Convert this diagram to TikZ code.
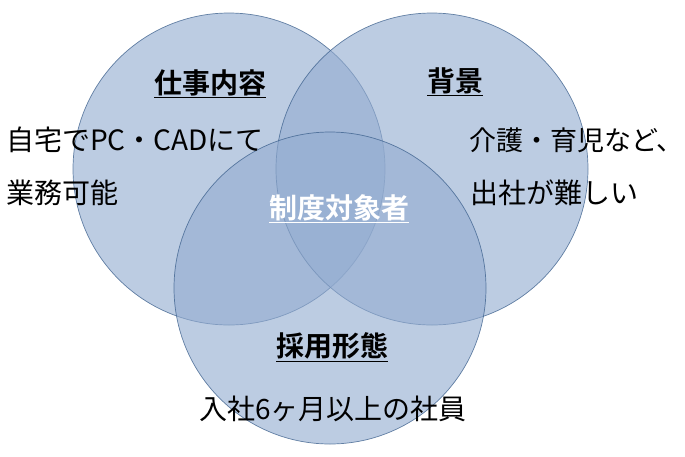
\documentclass[tikz,border=0pt]{standalone}
\usepackage{fontspec}
\setmainfont{Noto Sans CJK JP}
\newfontfamily\jpbold{Noto Sans CJK JP Bold}
\definecolor{vfill}{HTML}{93ACD0}
\definecolor{vline}{HTML}{385D8A}
\begin{document}
\begin{tikzpicture}[x=1pt,y=-1pt,
  venn/.style={circle,minimum size=312pt,inner sep=0pt,fill=vfill,fill opacity=0.62,draw=vline,draw opacity=0.75,line width=0.7pt},
  ttl/.style={font=\jpbold\fontsize{28}{32}\selectfont,inner sep=0pt},
  body/.style={font=\fontsize{28}{32}\selectfont,inner sep=0pt,anchor=west}]
\useasboundingbox (0,0) rectangle (685,456);
\node[venn] (c1) at (229,169) {};
\node[venn] (c2) at (432,169) {};
\node[venn] (c3) at (330,288) {};
\node[ttl] (t1) at (210,84) {\underline{仕事内容}};
\node[ttl] (t2) at (455,82) {\underline{背景}};
\node[ttl,text=white] (t0) at (339,209) {\underline{制度対象者}};
\node[ttl] (t3) at (332,347) {\underline{採用形態}};
\node[body] (b1) at (6,140) {自宅でPC・CADにて};
\node[body] (b2) at (6,193) {業務可能};
\node[body,font=\fontsize{27}{32}\selectfont] (b3) at (469,140) {介護・育児など、};
\node[body] (b4) at (470,193) {出社が難しい};
\node[body,anchor=center] (b5) at (333,409) {入社6ヶ月以上の社員};
\end{tikzpicture}
\end{document}
